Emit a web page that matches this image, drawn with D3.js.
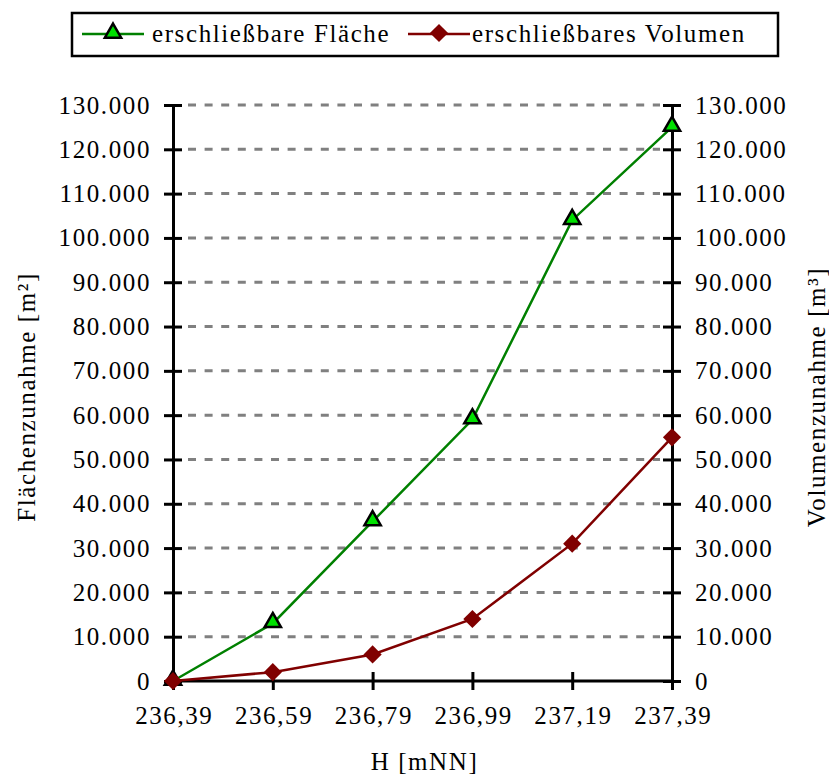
<!DOCTYPE html>
<html>
<head>
<meta charset="utf-8">
<script src="https://cdn.jsdelivr.net/npm/d3@7"></script>
<style>
  body { margin: 0; background: #fff; }
  text { font-family: "Liberation Serif", "Times New Roman", serif; fill: #000; font-size: 25px; letter-spacing: 1.6px; }
</style>
</head>
<body>
<svg width="829" height="776"></svg>
<script>
// chart data
var heights = ["236,39", "236,59", "236,79", "236,99", "237,19", "237,39"];
var flaeche = [0, 13000, 36000, 59000, 104000, 125000];
var volumen = [0, 2000, 6000, 14000, 31000, 55000];
var yTicks = [0, 10000, 20000, 30000, 40000, 50000, 60000, 70000, 80000, 90000, 100000, 110000, 120000, 130000];

var svg = d3.select("svg");
var pl = 173, pr = 672, pt = 105, pb = 681;

var x = d3.scalePoint().domain(heights).range([pl, pr]);
var y = d3.scaleLinear().domain([0, 130000]).range([pb, pt]);

var fmt = function(d) { return d3.format(",")(d).replace(/,/g, "."); };

// grid
svg.append("g").selectAll("line")
  .data(yTicks.slice(1))
  .enter().append("line")
    .attr("x1", pl + 15).attr("x2", pr - 12)
    .attr("y1", function(d) { return y(d); })
    .attr("y2", function(d) { return y(d); })
    .attr("stroke", "#808080")
    .attr("stroke-width", 3)
    .attr("stroke-dasharray", "8,8.6");

function styleAxis(g) {
  g.select(".domain").attr("stroke", "#000").attr("stroke-width", 3);
  g.selectAll(".tick line").attr("stroke", "#000").attr("stroke-width", 3);
  g.selectAll(".tick text").attr("font-size", null).attr("font-family", null);
}

var yl = svg.append("g").attr("transform", "translate(" + pl + ",0)")
  .call(d3.axisLeft(y).tickValues(yTicks).tickFormat(fmt).tickSizeOuter(0).tickSize(9).tickPadding(13));
yl.selectAll(".tick line").attr("x2", 9).attr("x1", -9);
styleAxis(yl);

var yr = svg.append("g").attr("transform", "translate(" + pr + ",0)")
  .call(d3.axisRight(y).tickValues(yTicks).tickFormat(fmt).tickSizeOuter(0).tickSize(9).tickPadding(14));
yr.selectAll(".tick line").attr("x1", -9).attr("x2", 9);
styleAxis(yr);

var xa = svg.append("g").attr("transform", "translate(0," + pb + ")")
  .call(d3.axisBottom(x).tickSizeOuter(0).tickSize(9).tickPadding(16));
xa.selectAll(".tick line").attr("y1", -9).attr("y2", 9);
xa.selectAll(".tick text").attr("dx", "0.8px");
xa.select(".domain").attr("d", "M" + pl + ",0H" + pr);
styleAxis(xa);

// axis titles
svg.append("text")
  .attr("transform", "translate(35," + ((pt + pb) / 2 + 4) + ") rotate(-90)")
  .attr("text-anchor", "middle")
  .text("Flächenzunahme [m²]");
svg.append("text")
  .attr("transform", "translate(825," + ((pt + pb) / 2 + 4) + ") rotate(-90)")
  .attr("text-anchor", "middle")
  .text("Volumenzunahme [m³]");
svg.append("text")
  .attr("x", (pl + pr) / 2 + 2).attr("y", 770)
  .attr("text-anchor", "middle")
  .text("H [mNN]");

// series
var line = d3.line()
  .x(function(d, i) { return x(heights[i]); })
  .y(function(d) { return y(d); });

var tri = d3.symbol().type(d3.symbolTriangle).size(115);
var dia = d3.symbol().type(d3.symbolSquare).size(165);

svg.append("path").datum(flaeche)
  .attr("d", line).attr("fill", "none")
  .attr("stroke", "#008000").attr("stroke-width", 2.5);

svg.append("g").selectAll("path")
  .data(flaeche).enter().append("path")
    .attr("d", tri)
    .attr("transform", function(d, i) { return "translate(" + x(heights[i]) + "," + (y(d) - 1) + ")"; })
    .attr("fill", "#00e000").attr("stroke", "#000").attr("stroke-width", 2.5);

svg.append("path").datum(volumen)
  .attr("d", line).attr("fill", "none")
  .attr("stroke", "#800000").attr("stroke-width", 2.5);

svg.append("g").selectAll("path")
  .data(volumen).enter().append("path")
    .attr("d", dia)
    .attr("transform", function(d, i) { return "translate(" + x(heights[i]) + "," + y(d) + ") rotate(45)"; })
    .attr("fill", "#800000");

// legend
var lg = svg.append("g");
lg.append("rect")
  .attr("x", 72).attr("y", 13).attr("width", 706).attr("height", 43)
  .attr("fill", "#fff").attr("stroke", "#000").attr("stroke-width", 2.5);

var legendItems = [
  { label: "erschließbare Fläche", color: "#008000", marker: "tri", x0: 82, tx: 152 },
  { label: "erschließbares Volumen", color: "#800000", marker: "dia", x0: 408, tx: 472 }
];

legendItems.forEach(function(it) {
  lg.append("line")
    .attr("x1", it.x0).attr("x2", it.x0 + 62)
    .attr("y1", 34).attr("y2", 34)
    .attr("stroke", it.color).attr("stroke-width", 2.5);
  lg.append("path")
    .attr("d", it.marker === "tri" ? tri : dia)
    .attr("transform", "translate(" + (it.x0 + 31) + "," + 33 + ")" + (it.marker === "dia" ? " rotate(45)" : ""))
    .attr("fill", it.marker === "tri" ? "#00e000" : "#800000")
    .attr("stroke", it.marker === "tri" ? "#000" : "none")
    .attr("stroke-width", 2.5);
  lg.append("text")
    .attr("x", it.tx).attr("y", 42)
    .text(it.label);
});
</script>
</body>
</html>
